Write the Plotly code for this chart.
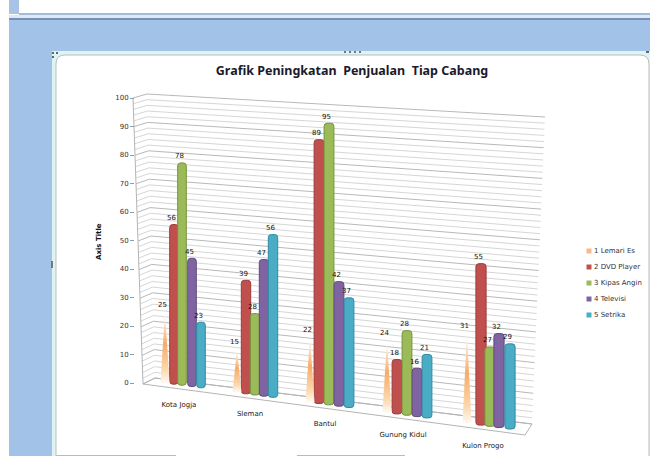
import numpy as np
import plotly.graph_objects as go

# ---- data ----
categories = ["Kota Jogja", "Sleman", "Bantul", "Gunung Kidul", "Kulon Progo"]
lemari_es = [25, 15, 22, 24, 31]
dvd_player = [56, 39, 89, 18, 55]
kipas_angin = [78, 28, 95, 28, 27]
televisi = [45, 47, 42, 16, 32]
setrika = [23, 56, 37, 21, 29]
series_names = ["1 Lemari Es", "2 DVD Player", "3 Kipas Angin", "4 Televisi", "5 Setrika"]
y_ticks = list(range(0, 101, 10))
title_text = "Grafik Peningkatan  Penjualan  Tiap Cabang"
axis_title = "Axis Title"

# ---- layout: the x axis runs in screen px, the y axis in value units ----
W, H = 650, 456
Y0_PX, PX_PER_UNIT = 383.0, 2.85


def v(py):
    return (Y0_PX - np.asarray(py, dtype=float)) / PX_PER_UNIT


cone_x = [165, 237, 310, 387, 467]
bar_x = {
    "red": [174, 246, 319, 397, 481],
    "green": [182, 255, 329, 407, 490],
    "purple": [192, 264, 339, 417, 499],
    "cyan": [201, 273, 349, 427, 510],
}
bar_w = [8.6, 9.4, 9.8, 9.8, 10.2]
persp = np.array([1.0, 1.02, 1.04, 1.06, 1.03])
label_pos = [(179, 405), (250, 414), (325, 424), (403, 435), (483, 446)]


def base_at(x):
    return v(384 + (np.asarray(x, dtype=float) - 173) * 0.1335)


fig = go.Figure()

# ---- back wall gridlines ----
levels = np.arange(0, 101, 2)
gx, gy, mx, my = [], [], [], []
for lv in levels:
    t = lv / 100
    xs = [143 - 10 * t, 155 - 8 * t, 532 + 13 * t, None]
    ys = [v(384 - 286 * t), v(378 - 284 * t), v(424 - 307 * t), None]
    if lv % 10 == 0:
        mx += xs
        my += ys
    else:
        gx += xs
        gy += ys
fig.add_trace(go.Scatter(x=gx, y=gy, mode="lines", line=dict(color="#d6d6d6", width=1),
                         hoverinfo="skip", showlegend=False))
fig.add_trace(go.Scatter(x=mx, y=my, mode="lines", line=dict(color="#b8b8b8", width=1),
                         hoverinfo="skip", showlegend=False))
# left edge + floor
fig.add_trace(go.Scatter(x=[133, 143, 155, 532, 525, 143],
                         y=list(v([98, 384, 378, 424, 435, 384])),
                         mode="lines", line=dict(color="#b4b4b4", width=1),
                         hoverinfo="skip", showlegend=False))

# ---- cones for the first series ----
cone_grad = dict(type="vertical",
                 colorscale=[[0, "#fffaf4"], [0.18, "#fbd9b0"], [0.55, "#f8ab68"],
                             [0.85, "#fde6cc"], [1, "#ffffff"]])
for i, val in enumerate(lemari_es):
    b = float(base_at(cone_x[i]))
    fig.add_trace(go.Scatter(
        x=[cone_x[i] - 4.5, cone_x[i], cone_x[i] + 4.5, cone_x[i] - 4.5],
        y=[b, b + val * persp[i], b, b],
        mode="lines", line=dict(width=0), fill="toself", fillgradient=cone_grad,
        xaxis="x2", yaxis="y2", hoverinfo="skip", showlegend=False))

# ---- bars (on the overlaying axes so they cover the gridlines) ----
groups = [("red", dvd_player, "#C0504D", "#9c3c39"),
          ("green", kipas_angin, "#9BBB59", "#76923c"),
          ("purple", televisi, "#8064A2", "#5f4a7b"),
          ("cyan", setrika, "#4BACC6", "#2f8aa3")]
for (key, vals, col, edge), nm in zip(groups, series_names[1:]):
    xs = np.array(bar_x[key], dtype=float)
    fig.add_trace(go.Bar(
        x=xs, y=np.array(vals) * persp, base=base_at(xs), width=bar_w, name=nm,
        marker=dict(color=col, line=dict(color=edge, width=1), cornerradius=3),
        xaxis="x2", yaxis="y2", showlegend=False))

# ---- value labels ----
lab_font = dict(family="DejaVu Sans", size=7, color="#111111")
all_x, all_y, all_t = [], [], []
for xs, vals in [(cone_x, lemari_es), (bar_x["red"], dvd_player), (bar_x["green"], kipas_angin),
                 (bar_x["purple"], televisi), (bar_x["cyan"], setrika)]:
    xs = np.array(xs, dtype=float)
    tops = base_at(xs) + np.array(vals) * persp
    all_x += list(xs - 2.5)
    all_y += list(tops + 1)
    all_t += [str(a) for a in vals]
fig.add_trace(go.Scatter(x=all_x, y=all_y, text=all_t, mode="text", textposition="top center",
                         textfont=lab_font, xaxis="x2", yaxis="y2",
                         hoverinfo="skip", showlegend=False))

# ---- category labels ----
fig.add_trace(go.Scatter(x=[p[0] for p in label_pos], y=v([p[1] for p in label_pos]),
                         text=categories, mode="text", textposition="middle center",
                         textfont=dict(family="DejaVu Sans", size=7, color="#222222"),
                         hoverinfo="skip", showlegend=False))

# ---- legend ----
leg_y = [251, 267, 283, 299, 315]
leg_col = ["#F8B888", "#C0504D", "#9BBB59", "#8064A2", "#4BACC6"]
fig.add_trace(go.Scatter(x=[589] * 5, y=v(leg_y), mode="markers",
                         marker=dict(symbol="square", size=5, color=leg_col),
                         hoverinfo="skip", showlegend=False))
fig.add_trace(go.Scatter(x=[594] * 5, y=v(leg_y), mode="text", text=series_names,
                         textposition="middle right",
                         textfont=dict(family="DejaVu Sans", size=7, color="#333333"),
                         hoverinfo="skip", showlegend=False))


# ---- screenshot surroundings ----
def rect(x0, y0, x1, y1, color):
    return dict(type="rect", xref="paper", yref="paper", layer="below", line=dict(width=0),
                fillcolor=color, x0=x0 / W, x1=x1 / W, y0=1 - y1 / H, y1=1 - y0 / H)


def rpx(px):
    return px / W


def rpy(py):
    return 1 - py / H


def panel(x0, y0, x1, y1, r, fill, stroke, width=1):
    path = (f"M {rpx(x0)} {rpy(y1)} L {rpx(x0)} {rpy(y0 + r)} "
            f"Q {rpx(x0)} {rpy(y0)} {rpx(x0 + r)} {rpy(y0)} "
            f"L {rpx(x1 - r)} {rpy(y0)} Q {rpx(x1)} {rpy(y0)} {rpx(x1)} {rpy(y0 + r)} "
            f"L {rpx(x1)} {rpy(y1)} Z")
    return dict(type="path", path=path, xref="paper", yref="paper", layer="below",
                fillcolor=fill, line=dict(color=stroke, width=width))


shapes = [
    rect(9, 19, 650, 456, "#A3C2E8"),
    rect(9, 0, 19, 14, "#A9C3E6"),
    rect(19, 13, 650, 15, "#A5BCD8"),
    rect(9, 15, 650, 18, "#DCE8F6"),
    rect(9, 18, 650, 20, "#7391B8"),
    rect(52, 51, 650, 456, "#DDF4F6"),
    panel(56, 55, 649, 458, 9, "#FFFFFF", "#BDBDBD", 1),
    rect(56, 455, 176, 456, "#A9BCD8"),
    rect(297, 455, 405, 456, "#A9BCD8"),
]
for dx, dy in [(52, 52), (56, 52), (52, 56)]:
    shapes.append(rect(dx, dy, dx + 2, dy + 2, "#666666"))
for dx in (344, 349, 354, 359):
    shapes.append(rect(dx, 51, dx + 2, 53, "#777777"))
shapes.append(rect(51, 261, 53, 268, "#777777"))
shapes.append(rect(646, 51, 649, 53, "#666666"))

y_range = [(Y0_PX - H) / PX_PER_UNIT, Y0_PX / PX_PER_UNIT]
fig.update_layout(
    width=W, height=H, autosize=False,
    margin=dict(l=0, r=0, t=0, b=0),
    paper_bgcolor="#FFFFFF", plot_bgcolor="rgba(0,0,0,0)",
    barmode="overlay", showlegend=False, shapes=shapes,
    title=dict(text=title_text, x=352 / W, xanchor="center", y=1 - 71 / H, yanchor="middle",
               font=dict(family="Noto Sans", size=12.5, color="#1a1a2a", weight="bold")),
    xaxis=dict(range=[0, W], visible=False, domain=[0, 1]),
    xaxis2=dict(range=[0, W], visible=False, overlaying="x"),
    yaxis2=dict(range=y_range, visible=False, overlaying="y"),
    yaxis=dict(range=y_range,
               anchor="free", position=134 / W, side="left",
               tickvals=y_ticks, ticks="outside", ticklen=4, tickcolor="#999999",
               showgrid=False, zeroline=False, showline=False,
               tickfont=dict(family="DejaVu Sans", size=7, color="#333333")),
    annotations=[dict(text=axis_title, xref="paper", yref="paper", x=99 / W, y=1 - 242 / H,
                      textangle=-90, showarrow=False, xanchor="center", yanchor="middle",
                      font=dict(family="DejaVu Sans", size=7, color="#111111", weight="bold"))],
)
fig.write_html("out.html", config={"displayModeBar": False},
               post_script="document.body.style.margin='0';document.documentElement.style.overflow='hidden';")
